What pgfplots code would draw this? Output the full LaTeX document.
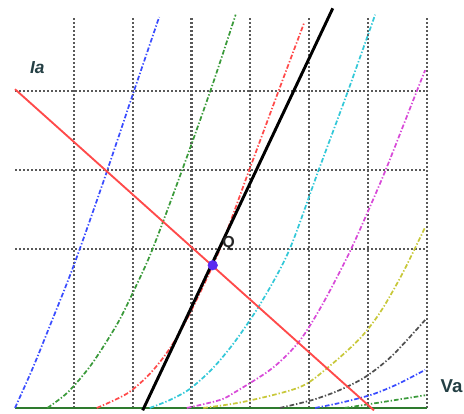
\documentclass[border=0pt]{standalone}
\usepackage{pgfplots}
\pgfplotsset{compat=1.18}
\usepackage{fontspec}
\setmainfont{Liberation Sans}
\definecolor{lblue}{HTML}{3A4DFF}
\definecolor{lgreen}{HTML}{3A9A3A}
\definecolor{lred}{HTML}{FF4A4A}
\definecolor{lcyan}{HTML}{33C8D8}
\definecolor{lmag}{HTML}{D84AD8}
\definecolor{lyel}{HTML}{C8C83A}
\definecolor{lgray}{HTML}{505050}
\definecolor{labcol}{HTML}{243F44}
\definecolor{qcol}{HTML}{5A2AF0}
\begin{document}
\begin{tikzpicture}
\begin{axis}[
  scale only axis, width=348pt, height=310.5pt,
  xmin=-0.255, xmax=7.63, ymin=-0.076, ymax=5.145,
  axis lines=none, ticks=none, clip=false,
  curve/.style={line width=1.3pt, dash pattern=on 3.5pt off 1.5pt on 1pt off 1.5pt, smooth, tension=0.5},
  gridl/.style={black!65, line width=1.6pt, dash pattern=on 1.6pt off 1.4pt},
]
% grid
\addplot[gridl] coordinates {(1,0) (1,4.93)};
\addplot[gridl] coordinates {(2,0) (2,4.93)};
\addplot[gridl] coordinates {(3,0) (3,4.93)};
\addplot[gridl] coordinates {(4,0) (4,4.93)};
\addplot[gridl] coordinates {(5,0) (5,4.93)};
\addplot[gridl] coordinates {(6,0) (6,4.93)};
\addplot[gridl] coordinates {(7,0) (7,4.93)};
\addplot[gridl] coordinates {(0,2) (7,2)};
\addplot[gridl] coordinates {(0,3) (7,3)};
\addplot[gridl] coordinates {(0,4) (7,4)};
% baseline
\addplot[lgreen!80!black, line width=1.3pt] coordinates {(0,0) (7,0)};
% curves
\addplot[curve, lblue] coordinates {(0,0) (0.3,0.5) (0.6,1.05) (1.0,1.8) (1.5,2.85) (2.0,3.95) (2.45,4.93)};
\addplot[curve, lgreen] coordinates {(0.55,0) (0.9,0.2) (1.3,0.55) (1.73,1.05) (2.0,1.45) (2.33,1.99) (2.84,3.0) (3.33,4.02) (3.75,4.96)};
\addplot[curve, lred] coordinates {(1.39,0) (1.9,0.18) (2.29,0.43) (2.63,0.75) (2.97,1.19) (3.48,2.0) (3.99,3.02) (4.5,4.04) (4.91,4.85)};
\addplot[curve, lcyan] coordinates {(2.29,0) (2.63,0.1) (2.97,0.24) (3.36,0.5) (3.75,0.85) (4.2,1.35) (4.66,1.99) (5.15,2.98) (5.65,3.98) (6.12,4.96)};
\addplot[curve, lmag] coordinates {(2.92,0) (3.48,0.1) (3.74,0.2) (4.37,0.5) (4.83,0.84) (5.22,1.3) (5.67,1.94) (6.01,2.5) (6.32,3.04) (6.83,4.0) (6.97,4.26)};
\addplot[curve, lyel] coordinates {(3.2,0) (3.9,0.08) (4.83,0.26) (5.3,0.5) (5.84,0.86) (6.2,1.2) (6.58,1.69) (6.97,2.28)};
\addplot[curve, lgray] coordinates {(4.5,0) (5.05,0.1) (5.5,0.22) (5.95,0.39) (6.41,0.66) (6.97,1.11)};
\addplot[curve, lblue] coordinates {(5.1,0) (5.56,0.07) (6.07,0.17) (6.5,0.3) (6.97,0.48)};
\addplot[curve, lgreen] coordinates {(5.6,0) (6.12,0.06) (6.97,0.16)};
% load line
\addplot[lred, line width=1.4pt] coordinates {(0,4.02) (6.10,-0.03)};
% black line
\addplot[black, line width=2.2pt] coordinates {(2.17,-0.03) (5.40,5.04)};
% Q point
\addplot[only marks, mark=*, mark size=3.6pt, mark options={fill=qcol, draw=qcol}] coordinates {(3.36,1.80)};
\node[font=\bfseries\itshape\fontsize{13}{13}\selectfont, text=labcol] at (axis cs:0.38,4.29) {Ia};
\node[font=\bfseries\fontsize{14}{14}\selectfont, text=labcol] at (axis cs:7.42,0.27) {Va};
\node[font=\bfseries\fontsize{12}{12}\selectfont, text=black!85] at (axis cs:3.63,2.08) {Q};
\coordinate (bl) at (axis cs:-0.255,-0.076);
\coordinate (tr) at (axis cs:7.63,5.145);
\end{axis}
\pgfresetboundingbox
\path (bl) rectangle (tr);
\end{tikzpicture}
\end{document}
